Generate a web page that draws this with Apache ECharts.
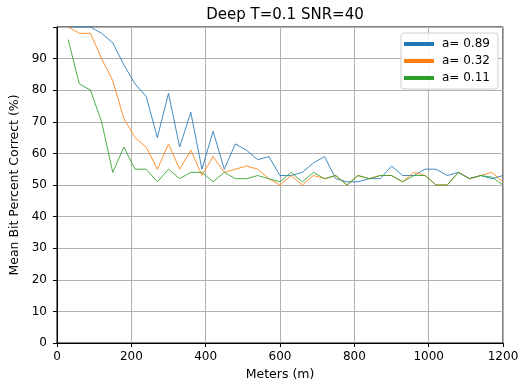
<!DOCTYPE html>
<html>
<head>
<meta charset="utf-8">
<script src="https://cdn.jsdelivr.net/npm/echarts@6/dist/echarts.min.js"></script>
<style>
  html, body { margin: 0; padding: 0; background: #fff; }
  #chart { width: 522px; height: 385px; }
</style>
</head>
<body>
<div id="chart"></div>
<script>
// Distance along the link (m)
const meters = [30, 60, 90, 120, 150, 180, 210, 240, 270, 300,
                330, 360, 390, 420, 450, 480, 510, 540, 570, 600,
                630, 660, 690, 720, 750, 780, 810, 840, 870, 900,
                930, 960, 990, 1020, 1050, 1080, 1110, 1140, 1170, 1200];

// Mean bit percent correct for each attenuation setting
const a089 = [100, 100, 100, 98, 95, 88, 82, 78, 65, 79,
              62, 73, 55, 67, 55, 63, 61, 58, 59, 53,
              53, 54, 57, 59, 52, 51, 51, 52, 52, 56,
              53, 53, 55, 55, 53, 54, 52, 53, 52, 53];
const a032 = [100, 98, 98, 90, 83, 71, 65, 62, 55, 63,
              55, 61, 53, 59, 54, 55, 56, 55, 52, 50,
              53, 50, 53, 52, 53, 50, 53, 52, 53, 53,
              51, 54, 53, 50, 50, 54, 52, 53, 54, 51];
const a011 = [96, 82, 80, 70, 54, 62, 55, 55, 51, 55,
              52, 54, 54, 51, 54, 52, 52, 53, 52, 51,
              54, 51, 54, 52, 53, 50, 53, 52, 53, 53,
              51, 53, 53, 50, 50, 54, 52, 53, 52.5, 50];

const seriesNames = ['a= 0.89', 'a= 0.32', 'a= 0.11'];
const seriesColors = ['#1f77b4', '#ff7f0e', '#2ca02c'];
const seriesValues = [a089, a032, a011];

const font = 'DejaVu Sans';
const chart = echarts.init(document.getElementById('chart'), null, { renderer: 'canvas' });

chart.setOption({
  animation: false,
  backgroundColor: '#ffffff',
  color: seriesColors,
  title: {
    text: 'Deep T=0.1 SNR=40',
    left: 280, top: 3, textAlign: 'center',
    textStyle: { fontFamily: font, fontSize: 15, fontWeight: 'normal', color: '#000' }
  },
  legend: {
    orient: 'vertical',
    left: 401, top: 33,
    padding: [5, 8, 5, 3],
    itemWidth: 30, itemHeight: 4, itemGap: 5,
    icon: 'rect',
    backgroundColor: 'rgba(255,255,255,0.85)',
    borderColor: '#d0d0d0', borderWidth: 1, borderRadius: 3,
    textStyle: { fontFamily: font, fontSize: 12, color: '#000', padding: [0, 0, 0, 3] },
    data: seriesNames
  },
  grid: {
    left: 57, right: 19, top: 27, bottom: 42,
    outerBoundsMode: 'none',
    containLabel: false,
    show: true, borderColor: '#000', borderWidth: 1, backgroundColor: 'transparent'
  },
  xAxis: {
    type: 'value', min: 0, max: 1200, interval: 200,
    name: 'Meters (m)', nameLocation: 'middle', nameGap: 24,
    nameTextStyle: { fontFamily: font, fontSize: 12.5, color: '#000' },
    axisLine: { show: true, lineStyle: { color: '#000' } },
    axisTick: { show: true, length: 4, lineStyle: { color: '#000' } },
    axisLabel: { fontFamily: font, fontSize: 12, color: '#000', margin: 8, formatter: v => String(v) },
    splitLine: { show: true, lineStyle: { color: '#b0b0b0', width: 1 } }
  },
  yAxis: {
    type: 'value', min: 0, max: 100, interval: 10,
    name: 'Mean Bit Percent Correct (%)', nameLocation: 'middle', nameGap: 33,
    nameTextStyle: { fontFamily: font, fontSize: 12.5, color: '#000' },
    axisLine: { show: true, lineStyle: { color: '#000' } },
    axisTick: { show: true, length: 4, lineStyle: { color: '#000' } },
    axisLabel: {
      fontFamily: font, fontSize: 12, color: '#000', margin: 10,
      formatter: v => (v >= 100 ? '' : String(v))
    },
    splitLine: { show: true, lineStyle: { color: '#b0b0b0', width: 1 } }
  },
  series: seriesValues.map((vals, i) => ({
    name: seriesNames[i],
    type: 'line',
    data: meters.map((m, k) => [m, vals[k]]),
    showSymbol: false,
    symbol: 'none',
    clip: true,
    lineStyle: { width: 1, color: seriesColors[i], opacity: 0.85 },
    itemStyle: { color: seriesColors[i] }
  }))
});
</script>
</body>
</html>
